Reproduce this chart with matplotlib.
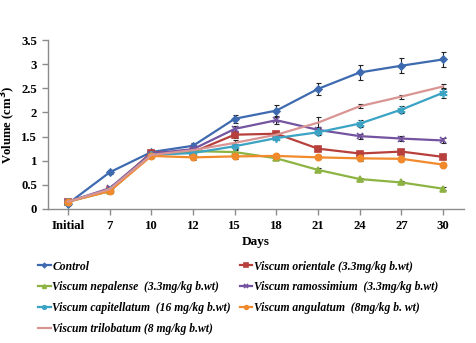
import matplotlib
matplotlib.use("Agg")
import matplotlib.pyplot as plt

days = ["Initial", "7", "10", "12", "15", "18", "21", "24", "27", "30"]

control = [0.11, 0.76, 1.18, 1.31, 1.87, 2.04, 2.49, 2.83, 2.97, 3.10]
orientale = [0.15, 0.40, 1.17, 1.18, 1.54, 1.56, 1.25, 1.15, 1.19, 1.08]
nepalense = [0.15, 0.37, 1.12, 1.20, 1.18, 1.05, 0.81, 0.62, 0.55, 0.42]
ramossimium = [0.15, 0.43, 1.15, 1.24, 1.66, 1.84, 1.64, 1.51, 1.46, 1.42]
capitellatum = [0.15, 0.40, 1.12, 1.16, 1.30, 1.47, 1.59, 1.77, 2.06, 2.41]
angulatum = [0.15, 0.37, 1.10, 1.07, 1.09, 1.10, 1.07, 1.05, 1.04, 0.92]
trilobatum = [0.15, 0.41, 1.12, 1.22, 1.37, 1.54, 1.79, 2.13, 2.33, 2.54]

control_err = [0.03, 0.04, 0.05, 0.06, 0.08, 0.11, 0.13, 0.15, 0.15, 0.15]
orientale_err = [0.03, 0.04, 0.04, 0.05, 0.07, 0.06, 0.04, 0.04, 0.05, 0.04]
nepalense_err = [0.03, 0.03, 0.04, 0.04, 0.04, 0.04, 0.03, 0.03, 0.03, 0.03]
ramossimium_err = [0.03, 0.04, 0.04, 0.05, 0.07, 0.07, 0.05, 0.05, 0.05, 0.05]
capitellatum_err = [0.03, 0.04, 0.04, 0.05, 0.05, 0.05, 0.06, 0.07, 0.08, 0.10]
angulatum_err = [0.03, 0.04, 0.04, 0.05, 0.05, 0.04, 0.04, 0.05, 0.05, 0.03]
trilobatum_err = [0.03, 0.04, 0.04, 0.05, 0.05, 0.05, 0.12, 0.04, 0.04, 0.05]

series = [
    ("Control", control, control_err, "#3E6AB0", "D", 3.5),
    ("Viscum orientale (3.3mg/kg b.wt)", orientale, orientale_err, "#B8403C", "s", 4.5),
    ("Viscum nepalense  (3.3mg/kg b.wt)", nepalense, nepalense_err, "#8DB443", "^", 4.5),
    ("Viscum ramossimium  (3.3mg/kg b.wt)", ramossimium, ramossimium_err, "#7454A0", "x", 5),
    ("Viscum capitellatum  (16 mg/kg b.wt)", capitellatum, capitellatum_err, "#3BA3C4", (6, 2, 0), 6),
    ("Viscum angulatum  (8mg/kg b. wt)", angulatum, angulatum_err, "#F08A2C", "o", 4.5),
    ("Viscum trilobatum (8 mg/kg b.wt)", trilobatum, trilobatum_err, "#D99594", "", 0),
]

serif = ["Liberation Serif", "DejaVu Serif"]

fig = plt.figure(figsize=(4.77, 3.43), dpi=100)
ax = fig.add_axes([0.1006, 0.3907, 0.8721, 0.4923])

x = list(range(len(days)))
handles = {}
for name, vals, err, color, marker, ms in series:
    ax.errorbar(x, vals, yerr=err, fmt="none", ecolor="#222222",
                elinewidth=0.8, capsize=1.8, capthick=0.8, zorder=2)
    (h,) = ax.plot(x, vals, color=color, lw=1.6, marker=marker if marker else None,
                   ms=ms, mec=color, mfc=color, mew=1.2, zorder=3)
    handles[name] = h

ax.set_xlim(-0.48, 9.5)
ax.set_ylim(0, 3.5)
ax.set_xticks(x)
ax.set_xticklabels(days)
ax.set_yticks([0, 0.5, 1, 1.5, 2, 2.5, 3, 3.5])
ax.set_yticklabels(["0", "0.5", "1", "1.5", "2", "2.5", "3", "3.5"])

for side in ("top", "right"):
    ax.spines[side].set_visible(False)
for side in ("left", "bottom"):
    ax.spines[side].set_color("#8C8C8C")
    ax.spines[side].set_linewidth(1.0)
ax.tick_params(colors="#8C8C8C", length=4, width=1.0, direction="out")
for lab in ax.get_xticklabels() + ax.get_yticklabels():
    lab.set_color("black")
    lab.set_fontfamily(serif)
    lab.set_fontweight("bold")
    lab.set_fontsize(9.2)
ax.tick_params(axis="x", pad=4)
ax.tick_params(axis="y", pad=4)

ax.set_xlabel("Days", fontfamily=serif, fontweight="bold", fontsize=9.5, labelpad=3)
ax.set_ylabel("Volume (cm$^\\mathbf{3}$)", fontfamily=serif, fontweight="bold",
              fontsize=9.2)
ax.yaxis.set_label_coords(-0.072, 0.5)

# two columns, filled column by column
order = [series[i][0] for i in (0, 2, 4, 6, 1, 3, 5)]
leg = fig.legend([handles[n] for n in order], order, loc="upper left",
                 bbox_to_anchor=(0.057, 0.271), ncol=2, frameon=False,
                 prop={"family": serif, "weight": "bold", "style": "italic", "size": 8.4},
                 handlelength=1.1, handletextpad=0.15, columnspacing=0.75,
                 labelspacing=0.75, markerscale=0.6)

fig.savefig("out.png", dpi=100)
